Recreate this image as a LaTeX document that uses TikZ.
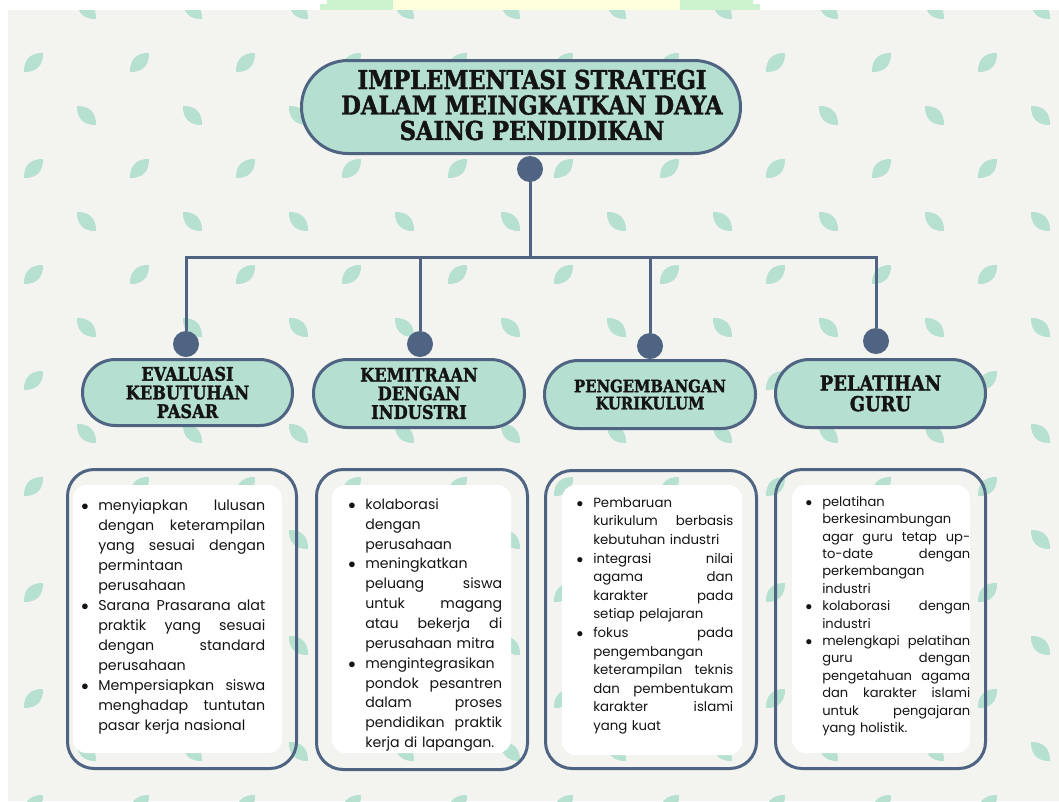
\documentclass[tikz,border=0pt]{standalone}
\usepackage{fontspec}
\setmainfont{Poppins}
\newfontfamily\titlefont{DejaVu Serif}[FakeStretch=0.87,FakeBold=1.6]
\definecolor{bgc}{HTML}{F3F4EF}
\definecolor{leafc}{HTML}{B6E0D0}
\definecolor{mint}{HTML}{B5DFD0}
\definecolor{slate}{HTML}{4F6483}
\definecolor{ink}{HTML}{141414}
\definecolor{bandg}{HTML}{CDF2CE}
\definecolor{bandy}{HTML}{FEFFDC}
\newlength\tw
\newcommand\leafUp[2]{\fill[leafc,shift={(#1,#2)},rotate=45] (-13.4,0) .. controls (-5,9) and (5,9) .. (13.4,0) .. controls (5,-9) and (-5,-9) .. cycle;}
\newcommand\leafDn[2]{\fill[leafc,shift={(#1,#2)},rotate=-45] (-13.4,0) .. controls (-5,9) and (5,9) .. (13.4,0) .. controls (5,-9) and (-5,-9) .. cycle;}
\newcommand\J[1]{\hbox to \tw{\strut #1}\par}
\newcommand\Lf[1]{\hbox to \tw{\strut #1\hfil}\par}
\newcommand\B{\leavevmode\llap{\makebox[0pt][c]{$\bullet$}\hspace{10pt}}}
\begin{document}
\begin{tikzpicture}[x=0.75pt,y=-0.75pt,
  conn/.style={draw=slate,line width=2.25pt},
  dot/.style={circle,fill=slate,minimum size=19.5pt,inner sep=0pt},
  pill/.style={rectangle,draw=slate,line width=2.25pt,fill=mint,inner sep=0pt,align=center,text=ink},
  pillfont/.style={font=\titlefont\bfseries\fontsize{#1}{#1}\selectfont},
  outerbox/.style={rectangle,draw=slate,line width=2.25pt,rounded corners=20pt,inner sep=0pt},
  innerbox/.style={rectangle,fill=white,rounded corners=10pt,inner sep=0pt},
  bodytext/.style={anchor=north west,inner sep=0pt,text=ink,text width=#1}
]
\useasboundingbox (0,0) rectangle (1059,801);
% top band
\fill[bandg] (327,0) rectangle (753,10);
\fill[bandg] (320,4) rectangle (760,10);
\fill[bandy] (393,0) rectangle (680,10);
% background
\fill[bgc] (8,10) rectangle (1059,801);
\begin{scope}
\clip (8,10) rectangle (1059,801);
\foreach \r in {0,...,7}{
  \foreach \c in {0,...,9}{
    \leafDn{86.5+106*\c}{9.5+106*\r}
    \leafUp{33.5+106*\c}{62.5+106*\r}
  }
}
\end{scope}

% title
\node[pill,minimum width=439*0.75pt,minimum height=93*0.75pt,rounded corners=34.8pt] (title) at (521,107) {};
\node[inner sep=0pt,align=center,text=ink,font=\titlefont\bfseries\fontsize{19.5}{19.1}\selectfont] (ttext) at (532,105)
  {IMPLEMENTASI STRATEGI\\DALAM MEINGKATKAN DAYA\\SAING PENDIDIKAN};

% dots
\node[dot] (c0) at (530,169) {};
\node[dot] (c1) at (186,344) {};
\node[dot] (c2) at (420,344) {};
\node[dot] (c3) at (650,346) {};
\node[dot] (c4) at (876,341) {};

% connectors
\coordinate (bar) at (530,257);
\draw[conn] (c0.south) -- (bar);
\draw[conn] (c1.north) -- (c1.north |- bar) -- (c4.north |- bar) -- (c4.north);
\draw[conn] (c2.north) -- (c2.north |- bar);
\draw[conn] (c3.north) -- (c3.north |- bar);

% category pills
\node[pill,pillfont=14,minimum width=210*0.75pt,minimum height=66*0.75pt,rounded corners=24.7pt] (p1) at (187.5,392.5)
  {\fontsize{14}{13.1}\selectfont EVALUASI\\KEBUTUHAN\\PASAR};
\node[pill,pillfont=14,minimum width=211*0.75pt,minimum height=68*0.75pt,rounded corners=25.4pt] (p2) at (419,393.5)
  {\fontsize{14}{13.1}\selectfont KEMITRAAN\\DENGAN\\INDUSTRI};
\node[pill,pillfont=12.8,minimum width=211*0.75pt,minimum height=68*0.75pt,rounded corners=25.4pt] (p3) at (650,394.5)
  {\fontsize{12.8}{11.6}\selectfont PENGEMBANGAN\\KURIKULUM};
\node[pill,pillfont=15.4,minimum width=210*0.75pt,minimum height=68*0.75pt,rounded corners=25.4pt] (p4) at (880.5,393.5)
  {\fontsize{15.4}{14.2}\selectfont PELATIHAN\\GURU};

% content boxes
\node[outerbox,minimum width=229*0.75pt,minimum height=299*0.75pt] (b1) at (182,619) {};
\node[outerbox,minimum width=211*0.75pt,minimum height=300*0.75pt] (b2) at (422,619.5) {};
\node[outerbox,minimum width=211*0.75pt,minimum height=298*0.75pt] (b3) at (651,619.5) {};
\node[outerbox,minimum width=210*0.75pt,minimum height=299*0.75pt] (b4) at (880.5,619) {};

\node[innerbox,minimum width=209*0.75pt,minimum height=268*0.75pt] (w1) at (177.5,619) {};
\node[innerbox,minimum width=179*0.75pt,minimum height=268*0.75pt] (w2) at (421.5,619) {};
\node[innerbox,minimum width=180*0.75pt,minimum height=270*0.75pt] (w3) at (652,620) {};
\node[innerbox,minimum width=178*0.75pt,minimum height=268*0.75pt] (w4) at (881,619) {};

\setlength\tw{125.25pt}
\node[bodytext=125.25pt,font=\fontsize{10.7}{15}\selectfont] (t1) at (98,496) {%
\parindent=0pt\parskip=0pt
\B\J{menyiapkan\hfill lulusan}
\J{dengan\hfill keterampilan}
\J{yang\hfill sesuai\hfill dengan}
\Lf{permintaan}
\Lf{perusahaan}
\B\J{Sarana\hfill Prasarana\hfill alat}
\J{praktik\hfill yang\hfill sesuai}
\J{dengan\hfill standard}
\Lf{perusahaan}
\B\J{Mempersiapkan\hfill siswa}
\J{menghadap\hfill tuntutan}
\Lf{pasar kerja nasional}};

\setlength\tw{102.75pt}
\node[bodytext=102.75pt,font=\fontsize{10.6}{14.9}\selectfont] (t2) at (365,495.1) {%
\parindent=0pt\parskip=0pt
\B\Lf{kolaborasi}
\Lf{dengan}
\Lf{perusahaan}
\B\Lf{meningkatkan}
\J{peluang\hfill siswa}
\J{untuk\hfill magang}
\J{atau\hfill bekerja\hfill di}
\Lf{perusahaan mitra}
\B\Lf{mengintegrasikan}
\J{pondok\hfill pesantren}
\J{dalam\hfill proses}
\J{pendidikan\hfill praktik}
\Lf{kerja di lapangan.}};

\setlength\tw{105pt}
\node[bodytext=105pt,font=\fontsize{10}{13.95}\selectfont] (t3) at (593,494) {%
\parindent=0pt\parskip=0pt
\B\Lf{Pembaruan}
\J{kurikulum\hfill berbasis}
\Lf{kebutuhan industri}
\B\J{integrasi\hfill nilai}
\J{agama\hfill dan}
\J{karakter\hfill pada}
\Lf{setiap pelajaran}
\B\J{fokus\hfill pada}
\Lf{pengembangan}
\J{keterampilan\hfill teknis}
\J{dan\hfill pembentukam}
\J{karakter\hfill islami}
\Lf{yang kuat}};

\setlength\tw{111pt}
\node[bodytext=111pt,font=\fontsize{9.8}{13.05}\selectfont] (t4) at (822,493.8) {%
\parindent=0pt\parskip=0pt
\B\Lf{pelatihan}
\Lf{berkesinambungan}
\J{agar\hfill guru\hfill tetap\hfill up-}
\J{to-date\hfill dengan}
\Lf{perkembangan}
\Lf{industri}
\B\J{kolaborasi\hfill dengan}
\Lf{industri}
\B\J{melengkapi\hfill pelatihan}
\J{guru\hfill dengan}
\J{pengetahuan\hfill agama}
\J{dan\hfill karakter\hfill islami}
\J{untuk\hfill pengajaran}
\Lf{yang holistik.}};
\end{tikzpicture}
\end{document}
